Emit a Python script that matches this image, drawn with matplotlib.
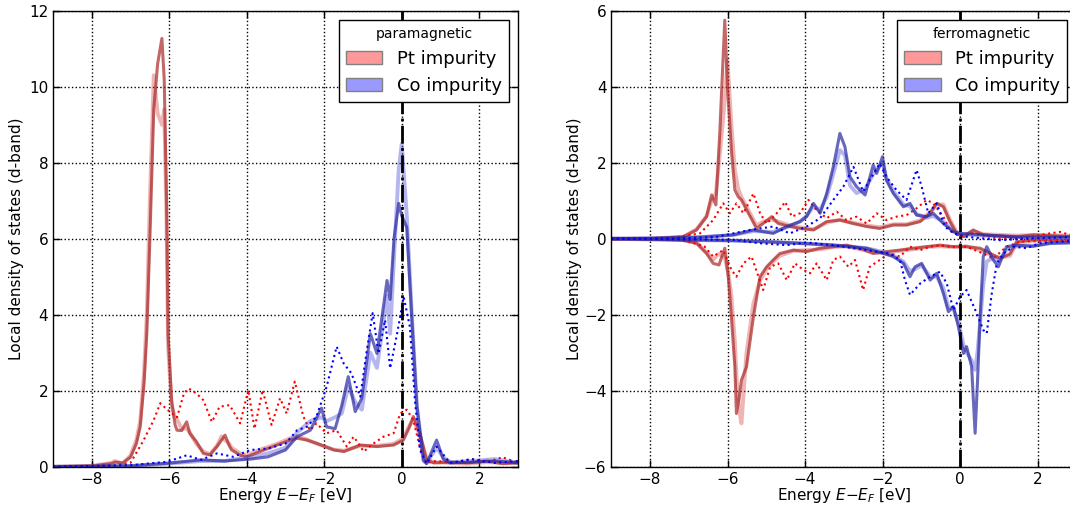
import matplotlib
matplotlib.use('Agg')
import matplotlib.pyplot as plt
from matplotlib.patches import Patch

plt.rcParams['font.family'] = ['DejaVu Sans']
plt.rcParams['xtick.direction'] = 'in'
plt.rcParams['ytick.direction'] = 'in'
plt.rcParams['xtick.top'] = True
plt.rcParams['ytick.right'] = True

# ---- paramagnetic panel ----
pm_pt_e = [-9.0, -8.0, -7.5, -7.4, -7.2, -7.0, -6.85, -6.75, -6.65, -6.58, -6.5, -6.4, -6.3, -6.19, -6.13,
           -6.07, -6.03, -5.94, -5.85, -5.8, -5.68, -5.55, -5.47, -5.3, -5.12, -4.95, -4.77, -4.65, -4.56,
           -4.45, -4.39, -4.17, -4.0, -3.65, -3.22, -2.88, -2.7, -2.45, -2.18, -1.75, -1.49, -1.07, -0.64,
           -0.21, 0.04, 0.18, 0.3, 0.47, 0.64, 0.82, 1.25, 1.7, 2.2, 2.6, 3.0]
pm_pt_dark = [0.0, 0.02, 0.08, 0.12, 0.1, 0.25, 0.6, 1.05, 2.2, 3.5, 6.0, 9.4, 10.6, 11.27, 10.2,
              7.0, 3.5, 1.75, 1.1, 0.96, 0.95, 1.18, 0.88, 0.66, 0.35, 0.31, 0.53, 0.7, 0.83,
              0.55, 0.44, 0.3, 0.26, 0.4, 0.57, 0.7, 0.75, 0.7, 0.61, 0.44, 0.4, 0.57, 0.53,
              0.57, 0.7, 1.0, 1.32, 0.88, 0.18, 0.1, 0.12, 0.1, 0.15, 0.08, 0.1]
pm_pt_light = [0.0, 0.02, 0.1, 0.15, 0.08, 0.3, 0.7, 1.2, 2.5, 4.0, 7.0, 10.3, 9.3, 9.0, 9.4,
               6.5, 3.2, 1.6, 1.3, 1.25, 1.0, 1.0, 0.9, 0.6, 0.4, 0.33, 0.55, 0.8, 0.7,
               0.6, 0.5, 0.35, 0.3, 0.45, 0.6, 0.75, 0.8, 0.72, 0.6, 0.45, 0.42, 0.55, 0.55,
               0.6, 0.75, 1.05, 1.25, 0.8, 0.2, 0.12, 0.1, 0.08, 0.12, 0.1, 0.12]
pm_pt_dot_e = [-9.0, -7.5, -7.0, -6.66, -6.4, -6.23, -6.05, -5.8, -5.62, -5.5, -5.3, -5.12, -4.9, -4.7,
               -4.44, -4.17, -3.96, -3.8, -3.59, -3.36, -3.14, -2.97, -2.76, -2.54, -2.37, -2.2, -1.94,
               -1.68, -1.42, -1.24, -0.98, -0.73, -0.47, -0.21, -0.04, 0.13, 0.3, 0.47, 0.64, 0.9, 1.3,
               1.8, 2.2, 2.6, 3.0]
pm_pt_dot = [0.0, 0.02, 0.1, 0.7, 1.23, 1.67, 1.5, 1.3, 1.93, 2.06, 1.93, 1.75, 1.18, 1.58,
             1.62, 1.14, 2.02, 1.0, 2.02, 1.1, 1.8, 1.4, 2.24, 1.32, 0.96, 1.14, 0.88,
             0.96, 0.53, 0.79, 0.4, 0.61, 0.79, 0.88, 1.4, 1.5, 1.23, 0.5, 0.1, 0.15, 0.1,
             0.2, 0.12, 0.25, 0.1]

pm_co_e = [-9.0, -7.0, -6.05, -5.18, -4.58, -3.9, -3.45, -3.0, -2.7, -2.36, -2.07, -1.94, -1.72, -1.55,
           -1.38, -1.2, -1.03, -0.81, -0.64, -0.38, -0.3, -0.2, -0.08, 0.0, 0.13, 0.26, 0.39, 0.56, 0.64,
           0.9, 1.07, 1.25, 1.8, 2.4, 3.0]
pm_co_dark = [0.0, 0.02, 0.09, 0.18, 0.15, 0.2, 0.26, 0.44, 0.79, 0.96, 1.54, 1.05, 1.0, 1.6,
              2.37, 1.45, 1.8, 3.5, 2.98, 4.9, 4.4, 6.0, 6.93, 6.6, 6.3, 3.9, 1.6, 0.18, 0.08,
              0.7, 0.2, 0.1, 0.12, 0.15, 0.1]
pm_co_light = [0.0, 0.02, 0.08, 0.15, 0.15, 0.25, 0.35, 0.5, 0.9, 1.2, 1.3, 1.2, 1.3, 1.4,
               2.1, 1.7, 1.5, 3.0, 2.6, 4.5, 3.5, 5.5, 7.8, 8.5, 6.6, 4.0, 1.6, 0.15, 0.1,
               0.5, 0.25, 0.12, 0.15, 0.2, 0.1]
pm_co_dot_e = [-9.0, -7.0, -6.05, -5.55, -5.18, -4.77, -4.35, -3.9, -3.45, -3.0, -2.7, -2.45, -2.2, -1.94,
               -1.68, -1.5, -1.3, -1.07, -0.9, -0.75, -0.6, -0.43, -0.3, -0.12, 0.05, 0.21, 0.34, 0.47,
               0.64, 0.9, 1.25, 1.8, 2.4, 3.0]
pm_co_dot = [0.0, 0.04, 0.13, 0.3, 0.18, 0.35, 0.26, 0.44, 0.48, 0.61, 0.96, 1.05, 1.32, 2.1,
             3.16, 2.72, 2.46, 1.84, 3.07, 4.04, 2.98, 3.86, 2.59, 3.5, 4.47, 3.68, 1.75, 0.44,
             0.08, 0.53, 0.1, 0.2, 0.1, 0.15]

# ---- ferromagnetic panel: spin up (positive) ----
fm_pt_up_e = [-9.0, -8.0, -7.14, -6.8, -6.54, -6.41, -6.3, -6.2, -6.07, -6.0, -5.9, -5.81, -5.72, -5.64,
              -5.46, -5.25, -5.08, -4.86, -4.69, -4.39, -4.13, -3.78, -3.44, -3.1, -2.76, -2.41, -2.07,
              -1.72, -1.38, -1.03, -0.77, -0.6, -0.43, -0.26, -0.09, 0.09, 0.34, 0.6, 1.46, 1.89, 3.0]
fm_pt_up_dark = [0.0, 0.0, 0.05, 0.23, 0.58, 1.15, 0.89, 2.77, 5.75, 4.0, 2.33, 1.28, 1.1, 1.02,
                 0.67, 0.27, 0.4, 0.58, 0.4, 0.32, 0.27, 0.23, 0.45, 0.49, 0.4, 0.32, 0.27,
                 0.36, 0.36, 0.45, 0.67, 0.93, 0.84, 0.45, 0.14, 0.05, 0.23, 0.1, 0.05, 0.1, 0.05]
fm_pt_up_light = [0.0, 0.0, 0.05, 0.25, 0.6, 1.0, 1.2, 2.2, 3.65, 4.7, 3.0, 1.8, 1.3, 1.1,
                  0.75, 0.35, 0.45, 0.5, 0.45, 0.35, 0.3, 0.25, 0.42, 0.5, 0.42, 0.35, 0.3,
                  0.38, 0.38, 0.48, 0.7, 0.9, 0.9, 0.5, 0.18, 0.08, 0.2, 0.12, 0.08, 0.1, 0.08]
fm_pt_up_dot_e = [-9.0, -7.5, -6.71, -6.37, -6.11, -5.94, -5.77, -5.59, -5.33, -5.16, -4.99, -4.73, -4.51,
                  -4.34, -4.13, -3.91, -3.7, -3.44, -3.18, -2.93, -2.67, -2.41, -2.15, -1.9, -1.64, -1.38,
                  -1.12, -0.86, -0.69, -0.43, -0.26, 0.0, 0.34, 1.03, 1.8, 2.32, 2.58, 3.0]
fm_pt_up_dot = [0.0, 0.01, 0.14, 0.49, 0.93, 0.67, 0.93, 0.67, 1.19, 0.67, 0.4, 0.67, 0.97,
                0.58, 0.67, 1.02, 0.75, 0.54, 0.71, 0.49, 0.58, 0.4, 0.67, 0.49, 0.58, 0.62,
                0.8, 1.02, 0.93, 0.58, 0.23, 0.05, 0.14, 0.0, 0.05, 0.14, 0.18, 0.05]

fm_co_up_e = [-9.0, -8.0, -6.71, -5.85, -5.33, -4.82, -4.47, -4.13, -3.96, -3.78, -3.61, -3.44, -3.27,
              -3.1, -2.97, -2.84, -2.67, -2.45, -2.24, -2.15, -2.0, -1.9, -1.72, -1.46, -1.29, -1.12,
              -0.86, -0.69, -0.43, -0.17, 0.0, 0.6, 1.46, 3.0]
fm_co_up_dark = [0.0, 0.01, 0.04, 0.1, 0.23, 0.14, 0.32, 0.45, 0.58, 0.93, 0.67, 1.19, 1.89,
                 2.77, 2.42, 1.63, 1.37, 1.15, 1.94, 1.72, 2.16, 1.54, 1.19, 0.84, 0.93, 0.62,
                 0.58, 0.67, 0.4, 0.18, 0.14, 0.1, 0.04, 0.04]
fm_co_up_light = [0.0, 0.01, 0.04, 0.1, 0.2, 0.18, 0.3, 0.45, 0.6, 0.85, 0.75, 1.1, 1.7,
                  2.33, 2.2, 1.4, 1.2, 1.3, 1.7, 1.8, 2.0, 1.6, 1.25, 0.9, 0.85, 0.65,
                  0.55, 0.6, 0.45, 0.2, 0.12, 0.08, 0.05, 0.04]
fm_co_up_dot_e = [-9.0, -7.14, -6.28, -5.42, -4.82, -4.39, -3.96, -3.61, -3.27, -3.01, -2.75, -2.5, -2.33,
                  -2.07, -1.9, -1.64, -1.38, -1.12, -0.99, -0.82, -0.6, -0.39, -0.17, 0.17, 1.03, 1.89,
                  2.75, 3.0]
fm_co_up_dot = [0.0, 0.01, 0.05, 0.23, 0.32, 0.14, 0.32, 0.54, 1.02, 1.37, 1.89, 1.24, 1.54,
                1.98, 1.63, 1.28, 1.02, 1.81, 1.37, 0.67, 0.93, 0.32, 0.14, 0.05, -0.04, 0.01,
                0.04, 0.03]

# ---- ferromagnetic panel: spin down (negative) ----
fm_pt_dn_e = [-9.0, -8.0, -7.2, -6.8, -6.54, -6.37, -6.22, -6.07, -5.98, -5.9, -5.81, -5.77, -5.7, -5.64,
              -5.51, -5.33, -5.16, -4.99, -4.82, -4.65, -4.3, -3.96, -3.61, -3.27, -2.93, -2.58, -2.24,
              -1.9, -1.55, -1.21, -0.86, -0.52, -0.17, 0.17, 0.52, 0.86, 1.03, 1.29, 1.46, 1.89, 3.0]
fm_pt_dn_dark = [0.0, 0.0, -0.03, -0.12, -0.39, -0.65, -0.69, -0.25, -1.0, -2.05, -3.37, -4.6, -4.2, -3.72,
                 -3.37, -2.05, -1.0, -0.74, -0.56, -0.39, -0.3, -0.34, -0.25, -0.21, -0.17, -0.25, -0.39,
                 -0.34, -0.3, -0.25, -0.21, -0.17, -0.21, -0.21, -0.25, -0.43, -0.52, -0.4, -0.08, -0.03,
                 -0.05]
fm_pt_dn_light = [0.0, 0.0, -0.03, -0.1, -0.35, -0.55, -0.4, -0.5, -0.9, -1.5, -2.7, -3.6, -4.5, -4.86,
                  -3.0, -1.7, -1.1, -0.8, -0.6, -0.45, -0.32, -0.3, -0.28, -0.22, -0.2, -0.28, -0.35,
                  -0.38, -0.32, -0.28, -0.22, -0.2, -0.22, -0.2, -0.3, -0.45, -0.5, -0.45, -0.12, -0.05,
                  -0.05]
fm_pt_dn_dot_e = [-9.0, -7.2, -6.6, -6.37, -6.11, -5.9, -5.77, -5.59, -5.38, -5.2, -5.08, -4.9, -4.69,
                  -4.47, -4.26, -4.04, -3.87, -3.7, -3.44, -3.27, -3.1, -2.88, -2.71, -2.5, -2.33, -2.07,
                  -1.81, -1.55, -1.29, -1.03, -0.77, -0.52, -0.26, 0.17, 0.6, 0.86, 1.2, 1.55, 2.2, 3.0]
fm_pt_dn_dot = [0.0, -0.02, -0.2, -0.47, -0.3, -0.82, -1.0, -0.65, -0.47, -1.0, -1.35, -0.74, -0.65,
                -1.09, -0.65, -0.82, -0.91, -0.65, -1.09, -0.56, -0.47, -0.74, -0.56, -1.35, -0.74, -0.56,
                -0.39, -0.47, -0.21, -0.3, -0.21, -0.17, -0.21, -0.21, -0.39, -0.52, -0.21, -0.08, -0.05,
                -0.03]

fm_co_dn_e = [-9.0, -8.0, -5.85, -4.99, -4.13, -3.27, -2.41, -1.98, -1.72, -1.46, -1.29, -1.16, -0.99,
              -0.77, -0.6, -0.43, -0.3, -0.17, -0.04, 0.09, 0.17, 0.3, 0.39, 0.45, 0.52, 0.6, 0.69,
              0.86, 0.99, 1.2, 1.46, 1.89, 2.32, 3.0]
fm_co_dn_dark = [0.0, -0.02, -0.05, -0.08, -0.12, -0.17, -0.25, -0.39, -0.47, -0.65, -1.0, -0.74, -0.65,
                 -1.09, -0.91, -1.44, -1.92, -1.79, -2.32, -3.02, -2.84, -3.37, -5.12, -3.8, -2.05, -0.47,
                 -0.21, -0.56, -0.74, -0.21, -0.17, -0.2, -0.12, -0.1]
fm_co_dn_light = [0.0, -0.02, -0.05, -0.08, -0.12, -0.17, -0.25, -0.35, -0.45, -0.6, -0.85, -0.8, -0.7,
                  -1.0, -1.0, -1.3, -1.8, -1.85, -2.2, -2.8, -3.0, -3.2, -3.45, -3.0, -2.2, -1.2,
                  -0.6, -0.5, -0.6, -0.3, -0.2, -0.18, -0.12, -0.1]
fm_co_dn_dot_e = [-9.0, -5.85, -5.16, -4.47, -3.96, -3.27, -2.41, -1.81, -1.55, -1.42, -1.29, -1.03, -0.77,
                  -0.52, -0.34, -0.17, 0.0, 0.17, 0.43, 0.6, 0.69, 0.82, 0.95, 1.12, 1.38, 1.72, 2.06, 3.0]
fm_co_dn_dot = [0.0, -0.03, -0.12, -0.17, -0.1, -0.17, -0.3, -0.39, -0.56, -1.09, -1.48, -1.18, -1.0,
                -0.87, -1.18, -1.88, -1.53, -1.35, -1.96, -2.4, -2.49, -1.44, -0.65, -0.39, -0.21, -0.25,
                -0.12, -0.05]

xticks = [-8, -6, -4, -2, 0, 2]

pt_dark, pt_light = '#a82828', '#d84848'
co_dark, co_light = '#2828a0', '#4848d8'

fig = plt.figure(figsize=(10.7, 5.09), dpi=100)
ax1 = fig.add_axes([53 / 1070, 42.3 / 509, 465 / 1070, 456 / 509])
ax2 = fig.add_axes([611.25 / 1070, 42.3 / 509, 465 / 1070, 456 / 509])


def solid(ax, e, y, c, dark):
    if dark:
        ax.plot(e, y, color=c, lw=2.2, alpha=0.7)
    else:
        ax.plot(e, y, color=c, lw=2.8, alpha=0.4)


# paramagnetic
solid(ax1, pm_pt_e, pm_pt_light, pt_light, False)
solid(ax1, pm_pt_e, pm_pt_dark, pt_dark, True)
ax1.plot(pm_pt_dot_e, pm_pt_dot, 'r:', lw=1.5)
solid(ax1, pm_co_e, pm_co_light, co_light, False)
solid(ax1, pm_co_e, pm_co_dark, co_dark, True)
ax1.plot(pm_co_dot_e, pm_co_dot, 'b:', lw=1.5)
ax1.set_ylim(0, 12)

# ferromagnetic
solid(ax2, fm_pt_up_e, fm_pt_up_light, pt_light, False)
solid(ax2, fm_pt_up_e, fm_pt_up_dark, pt_dark, True)
solid(ax2, fm_pt_dn_e, fm_pt_dn_light, pt_light, False)
solid(ax2, fm_pt_dn_e, fm_pt_dn_dark, pt_dark, True)
ax2.plot(fm_pt_up_dot_e, fm_pt_up_dot, 'r:', lw=1.5)
ax2.plot(fm_pt_dn_dot_e, fm_pt_dn_dot, 'r:', lw=1.5)
solid(ax2, fm_co_up_e, fm_co_up_light, co_light, False)
solid(ax2, fm_co_up_e, fm_co_up_dark, co_dark, True)
solid(ax2, fm_co_dn_e, fm_co_dn_light, co_light, False)
solid(ax2, fm_co_dn_e, fm_co_dn_dark, co_dark, True)
ax2.plot(fm_co_up_dot_e, fm_co_up_dot, 'b:', lw=1.5)
ax2.plot(fm_co_dn_dot_e, fm_co_dn_dot, 'b:', lw=1.5)
ax2.set_ylim(-6, 6)

handles = [Patch(facecolor=(1, 0.6, 0.6), edgecolor='gray'),
           Patch(facecolor=(0.6, 0.6, 1), edgecolor='gray')]
for ax, title in [(ax1, 'paramagnetic'), (ax2, 'ferromagnetic')]:
    ax.axvline(0, color='k', ls='-.', lw=2)
    ax.set_xlim(-9, 3)
    ax.set_xticks(xticks)
    ax.grid(True, color='k', ls=':', lw=1)
    ax.tick_params(labelsize=11, length=5, width=1)
    for s in ax.spines.values():
        s.set_linewidth(1)
    ax.set_xlabel(r'Energy $E{-}E_F$ [eV]', fontsize=11)
    ax.set_ylabel('Local density of states (d-band)', fontsize=11)
    ax.xaxis.set_label_coords(0.5, -0.043)
    ax.yaxis.set_label_coords(-0.062, 0.5)
    leg = ax.legend(handles, ['Pt impurity', 'Co impurity'], title=title, loc='upper right',
                    fontsize=13, title_fontsize=10, fancybox=False, framealpha=1,
                    edgecolor='k', borderaxespad=0.5)
    leg.get_frame().set_linewidth(1)

fig.savefig('out.png', dpi=100)
